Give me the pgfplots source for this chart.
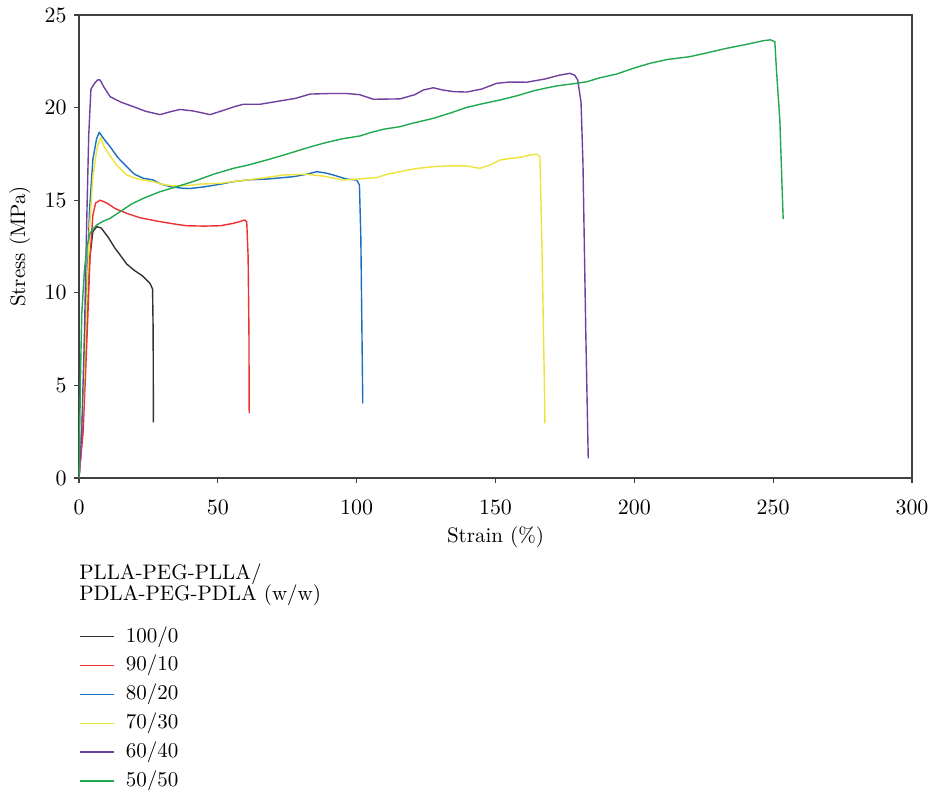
\documentclass[border=0pt]{standalone}
\usepackage{pgfplots}
\pgfplotsset{compat=1.18}
\usepackage{pgfplotstable}

\definecolor{cBlack}{HTML}{333333}
\definecolor{cRed}{HTML}{EE3030}
\definecolor{cBlue}{HTML}{1B6FBF}
\definecolor{cYellow}{HTML}{EDE43A}
\definecolor{cPurple}{HTML}{7040A0}
\definecolor{cGreen}{HTML}{22A84E}
\definecolor{axisgray}{HTML}{404040}

% strain (%)  stress (MPa)
\pgfplotstableread{
x y
0 0
1.5 3.5
2.8 8.5
3.8 11.8
5.0 13.3
6.4 13.57
8 13.5
10.5 13.0
13 12.4
15.5 11.9
17.2 11.55
20 11.2
23 10.9
25.6 10.5
26.5 10.2
26.7 8
26.8 3.0
}\tabA

\pgfplotstableread{
x y
0 0
1.5 2.5
3 8
4 12
5 14.2
6 14.85
7.6 15.0
10 14.85
13 14.55
17.2 14.29
22 14.05
29.2 13.84
35 13.7
38.8 13.62
45 13.6
50.8 13.62
55.6 13.75
58 13.85
59.6 13.93
60.4 13.84
60.9 12
61.2 8
61.3 3.5
}\tabB

\pgfplotstableread{
x y
0 0
1.5 4
2.8 10
3.8 14.5
5 17.2
6.3 18.3
7.3 18.67
9 18.3
11.2 17.89
14 17.3
17.2 16.81
20 16.4
23.2 16.18
26.8 16.09
29 15.9
32.8 15.73
37 15.65
40 15.63
45 15.72
50.8 15.86
55.6 16.0
61 16.1
67.6 16.14
72 16.2
77.2 16.27
82 16.4
85.6 16.54
88.5 16.48
91.6 16.36
96.4 16.14
100 16.09
101 15.82
101.5 13
102.2 4.03
}\tabC

\pgfplotstableread{
x y
0 0
1.5 4
2.8 9.5
3.8 13.5
5 16.3
6.5 17.8
7.8 18.4
9 17.9
10.6 17.53
13.5 16.9
17.2 16.36
21 16.15
26.8 16.0
30 15.85
34 15.77
40 15.8
43.6 15.87
50.8 15.91
55.5 16.0
65.2 16.18
73.6 16.36
82 16.4
88 16.3
95.2 16.09
101 16.15
107.2 16.22
111 16.4
115.6 16.54
121 16.7
127.6 16.81
133 16.85
139.6 16.85
144.4 16.72
148 16.9
151.6 17.17
155 17.25
158.8 17.31
162 17.42
164.8 17.49
166 17.35
166.8 12
167.5 6
167.8 2.95
}\tabD

\pgfplotstableread{
x y
0 0
1 2.5
2 8
2.8 14
3.5 18.5
4.3 21.0
5.8 21.35
6.8 21.5
7.6 21.49
9 21.1
11.2 20.59
15 20.3
19.6 20.05
24 19.8
29.2 19.62
33 19.78
36.4 19.9
41 19.82
43.6 19.74
47.2 19.62
52 19.85
56 20.05
59.2 20.18
65.2 20.18
72 20.35
78 20.5
83.2 20.73
90 20.76
96.4 20.76
101 20.7
104 20.55
106 20.45
115.6 20.47
121 20.7
124 20.95
127.6 21.07
131 20.95
135 20.86
139.6 20.84
145 21.0
150.4 21.31
155 21.38
161.2 21.37
168 21.55
173 21.75
176.8 21.85
178.5 21.75
179.6 21.5
180.8 20.3
181.5 17
182.5 8
183.4 1.06
}\tabE

\pgfplotstableread{
x y
0 0
0.3 3
0.6 6
1 8.9
2 11.3
3 12.6
4 13.21
5 13.45
6.4 13.66
8.5 13.85
11.2 14.02
15 14.4
19 14.8
23.2 15.1
29 15.45
35.2 15.73
42 16.05
48.4 16.4
55.6 16.72
61 16.9
67.6 17.17
74 17.45
79.6 17.71
85 17.95
89.2 18.12
95 18.32
101.2 18.47
105 18.65
109.6 18.83
115.6 18.97
120 19.15
127.6 19.42
134 19.72
139.6 20.01
145 20.2
151.6 20.41
158 20.65
163.6 20.9
168 21.05
172 21.17
179.2 21.31
183 21.4
187.6 21.61
193.6 21.81
199.6 22.12
205.6 22.39
212 22.6
220 22.75
226 22.95
233.2 23.2
240 23.4
246.4 23.61
249 23.66
250.6 23.56
251.2 22
252.4 19.33
253.6 13.99
}\tabF

\begin{document}
\fontsize{10.5}{12.6}\selectfont
\begin{tikzpicture}
\useasboundingbox (-39.5pt,-156pt) rectangle (426pt,239pt);
\begin{axis}[
  scale only axis,
  width=416.5pt, height=231.5pt,
  xmin=0, xmax=300, ymin=0, ymax=25,
  xtick={0,50,...,300}, ytick={0,5,...,25},
  tick align=outside, xtick pos=bottom, ytick pos=left,
  major tick length=2.5pt,
  axis line style={axisgray, line width=0.75pt},
  every tick/.style={axisgray, line width=0.6pt},
  tick label style={font=\fontsize{10.5}{12.6}\selectfont},
  xticklabel style={yshift=-5pt},
  label style={font=\fontsize{10.5}{12.6}\selectfont},
  xlabel={Strain (\%)},
  ylabel={Stress (MPa)},
  xlabel style={at={(axis description cs:0.5,0)}, anchor=center, yshift=-29.5pt},
  ylabel style={at={(axis description cs:0,0.5)}, anchor=center, yshift=29.5pt},
  legend cell align=left,
  legend image code/.code={\draw[#1] (0pt,-0.8pt) -- (17pt,-0.8pt);},
  legend style={at={(0,-0.3233)}, anchor=north west, draw=none, fill=none,
    inner sep=0pt, row sep=7.43pt, column sep=5.5pt,
    font=\fontsize{10.5}{12.6}\selectfont,
    nodes={inner sep=0pt, text height=7pt, text depth=0pt}},
  every axis plot/.append style={line width=0.7pt, line join=round},
]
\addplot[cBlack, no marks] table[x=x,y=y] {\tabA};
\addlegendentry{100/0}
\addplot[cRed, no marks] table[x=x,y=y] {\tabB};
\addlegendentry{90/10}
\addplot[cBlue, no marks] table[x=x,y=y] {\tabC};
\addlegendentry{80/20}
\addplot[cYellow, no marks] table[x=x,y=y] {\tabD};
\addlegendentry{70/30}
\addplot[cPurple, no marks] table[x=x,y=y] {\tabE};
\addlegendentry{60/40}
\addplot[cGreen, no marks] table[x=x,y=y] {\tabF};
\addlegendentry{50/50}
\end{axis}
% legend heading, below the axis box (axis south west sits at the origin)
\node[anchor=base west, inner sep=0pt] at (0pt,-51pt) {PLLA-PEG-PLLA/};
\node[anchor=base west, inner sep=0pt] at (0pt,-61.3pt) {PDLA-PEG-PDLA (w/w)};
\end{tikzpicture}
\end{document}
